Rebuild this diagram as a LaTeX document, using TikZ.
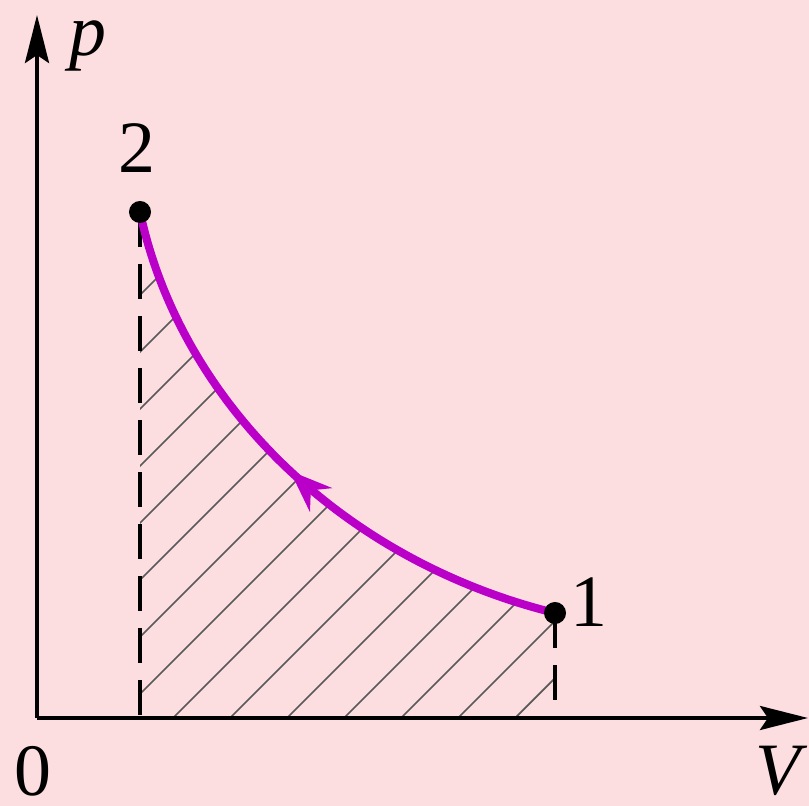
\documentclass[tikz,border=0pt]{standalone}
\usepackage{fontspec}
\setmainfont{Liberation Serif}
\usetikzlibrary{arrows.meta, decorations.markings}
\definecolor{bgpink}{RGB}{253,222,224}
\definecolor{curvemag}{RGB}{186,0,200}

\begin{document}
\begin{tikzpicture}[x=0.01cm, y=0.01cm,
    font=\fontsize{21}{25}\selectfont,
    axis/.style={line width=1.1pt, -{Stealth[length=4.8mm, width=2.4mm, inset=0.8mm]}},
    guide/.style={line width=1pt, dash pattern=on 9.9pt off 4.9pt},
    hatchline/.style={black!65, line width=0.5pt},
    process/.style={curvemag, line width=2.3pt, postaction={decorate},
      decoration={markings, mark=at position 0.5 with {\arrow{Stealth[length=4.2mm, width=3.2mm]}}}},
    statedot/.style={fill=black}]
  \fill[bgpink] (-37,-88) rectangle (772,718);
  \useasboundingbox (-37,-88) rectangle (772,718);
  \coordinate (o) at (0,0);
  \coordinate (vtip) at (771,0);
  \coordinate (ptip) at (0,703);
  \coordinate (s2) at (103,506);
  \coordinate (s1) at (518,105);
  % hatched area under the curve
  \begin{scope}
    \clip (s2 |- o) -- (s2) .. controls (143,318) and (303,158) .. (s1) -- (s1 |- o) -- cycle;
    \foreach \c in {-434,-377,...,480}
      \draw[hatchline] (\c,0) -- ++(600,600);
  \end{scope}
  \draw[guide] (s2) -- (s2 |- o);
  \draw[guide] (s1) -- (s1 |- o);
  \draw[axis] (o) -- (vtip);
  \draw[axis] (o) -- (ptip);
  \draw[process] (s1) .. controls (303,158) and (143,318) .. (s2);
  \fill[statedot] (s2) circle (0.11cm);
  \fill[statedot] (s1) circle (0.11cm);
  \node (lab2) at (100,570) {2};
  \node (lab1) at (552,116) {1};
  \node (lab0) at (-4,-53) {0};
  \node (labp) at (51,672) {\textit{p}};
  \node (labv) at (745,-53) {\textit{V}};
\end{tikzpicture}
\end{document}
